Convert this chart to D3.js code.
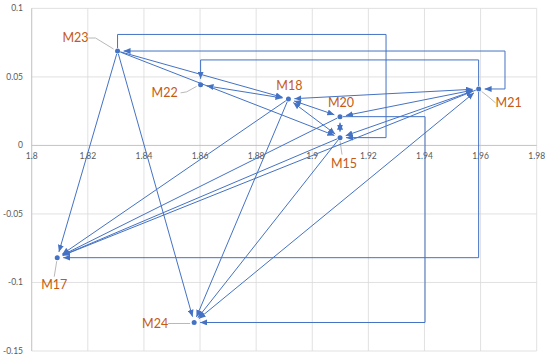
<!DOCTYPE html>
<html>
<head>
<meta charset="utf-8">
<script src="https://cdn.jsdelivr.net/npm/d3@7"></script>
<style>
  body { margin: 0; background: #fff; }
  svg { display: block; font-family: Lato, "Noto Sans", sans-serif; }
</style>
</head>
<body>
<div id="container"></div>
<script>
// data
const names   = ["M15", "M17", "M18", "M20", "M21", "M22", "M23", "M24"];
const xValues = [1.9099, 1.8091, 1.8915, 1.9099, 1.9593, 1.8602, 1.8306, 1.8579];
const yValues = [0.0057, -0.0819, 0.0339, 0.021, 0.0412, 0.0442, 0.0689, -0.1292];

const xTicks = [1.8, 1.82, 1.84, 1.86, 1.88, 1.9, 1.92, 1.94, 1.96, 1.98];
const xTickLabels = ["1.8", "1.82", "1.84", "1.86", "1.88", "1.9", "1.92", "1.94", "1.96", "1.98"];
const yTicks = [0.1, 0.05, 0, -0.05, -0.1, -0.15];
const yTickLabels = ["0.1", "0.05", "0", "-0.05", "-0.1", "-0.15"];

// straight arrows: from, to, arrow on both ends?
const links = [
  ["M23", "M18", false],
  ["M23", "M15", false],
  ["M23", "M17", false],
  ["M23", "M24", false],
  ["M22", "M18", true],
  ["M18", "M20", true],
  ["M18", "M15", true],
  ["M18", "M21", true],
  ["M18", "M17", false],
  ["M18", "M24", false],
  ["M20", "M15", true],
  ["M20", "M21", true],
  ["M20", "M17", false],
  ["M15", "M21", true],
  ["M15", "M17", false],
  ["M15", "M24", false],
  ["M21", "M17", false],
  ["M21", "M24", true]
];

// elbow connectors: from, to, both ends?, corners (a name means "take that point's x or y")
const elbows = [
  ["M23", "M15", false, [["M23", 0.081], [1.9263, 0.081], [1.9263, "M15"]]],
  ["M21", "M23", true,  [[1.9687, "M21"], [1.9687, "M23"]]],
  ["M21", "M22", false, [["M21", 0.0624], ["M22", 0.0624]]],
  ["M21", "M17", false, [["M21", "M17"]]],
  ["M20", "M24", false, [[1.9402, "M20"], [1.9402, "M24"]]]
];

/* layout */
const width = 550, height = 358;
const blue = "#4472C4", orange = "#C55A11", grid = "#d9d9d9", leader = "#a6a6a6";

// label placement in pixels from the point, with leader line points
const labelPos = {
  M23: { dx: -42, dy: -13, lead: [[-29, -13], [-22, -13], [-4, -2]] },
  M22: { dx: -36, dy: 8,   lead: [[-20, 8], [-14, 7], [-4, 1.5]] },
  M18: { dx: 1,   dy: -13, lead: null },
  M20: { dx: 1,   dy: -14, lead: null },
  M15: { dx: 4,   dy: 26,  lead: [[0, 3.5], [2, 17]] },
  M21: { dx: 30,  dy: 14,  lead: [[3, 2.5], [10, 8], [17, 14]] },
  M17: { dx: -3,  dy: 27,  lead: [[-0.5, 3.5], [-3, 19]] },
  M24: { dx: -39, dy: 1.5, lead: [[-26, 1], [-4, 1]] }
};

const x = d3.scaleLinear().domain([1.8, 1.98]).range([31.7, 536.7]);
const y = d3.scaleLinear().domain([-0.15, 0.1]).range([351, 8.4]);

const pts = {};
names.forEach((n, i) => pts[n] = { x: xValues[i], y: yValues[i] });

const svg = d3.select("#container").append("svg")
  .attr("width", width).attr("height", height);

svg.append("defs").append("marker")
  .attr("id", "arrow")
  .attr("viewBox", "0 0 7 6")
  .attr("refX", 7).attr("refY", 3)
  .attr("markerUnits", "userSpaceOnUse")
  .attr("markerWidth", 7).attr("markerHeight", 6)
  .attr("orient", "auto-start-reverse")
  .append("path").attr("d", "M0,0L7,3L0,6Z").attr("fill", blue);

// gridlines
svg.append("g").selectAll("line").data(xTicks).join("line")
  .attr("x1", d => x(d)).attr("x2", d => x(d))
  .attr("y1", y(0.1)).attr("y2", y(-0.15))
  .attr("stroke", grid).attr("stroke-width", 0.8);
svg.append("g").selectAll("line").data(yTicks).join("line")
  .attr("x1", x(1.8)).attr("x2", x(1.98))
  .attr("y1", d => y(d)).attr("y2", d => y(d))
  .attr("stroke", grid).attr("stroke-width", 0.8);

// axis lines
svg.append("line").attr("x1", x(1.8)).attr("x2", x(1.98)).attr("y1", y(0)).attr("y2", y(0))
  .attr("stroke", "#bfbfbf").attr("stroke-width", 0.8);
svg.append("line").attr("x1", x(1.8)).attr("x2", x(1.8)).attr("y1", y(0.1)).attr("y2", y(-0.15))
  .attr("stroke", "#bfbfbf").attr("stroke-width", 0.8);

// tick labels
svg.append("g").selectAll("text").data(xTicks).join("text")
  .attr("x", d => x(d)).attr("y", y(0) + 14)
  .attr("text-anchor", "middle").attr("font-size", "8.5px").attr("fill", "#595959")
  .text((d, i) => xTickLabels[i]);
svg.append("g").selectAll("text").data(yTicks).join("text")
  .attr("x", 23).attr("y", d => y(d) + 3)
  .attr("text-anchor", "end").attr("font-size", "8.5px").attr("fill", "#595959")
  .text((d, i) => yTickLabels[i]);

// leader lines for labels
names.forEach(n => {
  const lp = labelPos[n];
  if (!lp.lead) return;
  const px = x(pts[n].x), py = y(pts[n].y);
  svg.append("polyline")
    .attr("points", lp.lead.map(p => [px + p[0], py + p[1]].join(",")).join(" "))
    .attr("fill", "none").attr("stroke", leader).attr("stroke-width", 0.8);
});

const gapArrow = 6, gapPlain = 3;

// trims a pixel polyline at both ends
function trimmed(p, startGap, endGap) {
  const out = p.map(q => q.slice());
  const a = out[0], b = out[1];
  let len = Math.hypot(b[0] - a[0], b[1] - a[1]);
  a[0] += (b[0] - a[0]) / len * startGap; a[1] += (b[1] - a[1]) / len * startGap;
  const c = out[out.length - 1], d = out[out.length - 2];
  len = Math.hypot(d[0] - c[0], d[1] - c[1]);
  c[0] += (d[0] - c[0]) / len * endGap; c[1] += (d[1] - c[1]) / len * endGap;
  return out;
}

const line = d3.line();

const connG = svg.append("g").attr("fill", "none").attr("stroke", blue).attr("stroke-width", 1);

links.forEach(([f, t, both]) => {
  const p = [[x(pts[f].x), y(pts[f].y)], [x(pts[t].x), y(pts[t].y)]];
  connG.append("path")
    .attr("d", line(trimmed(p, both ? gapArrow : gapPlain, gapArrow)))
    .attr("marker-end", "url(#arrow)")
    .attr("marker-start", both ? "url(#arrow)" : null);
});

elbows.forEach(([f, t, both, via]) => {
  const p = [[x(pts[f].x), y(pts[f].y)]];
  via.forEach(([vx, vy]) => {
    p.push([x(typeof vx === "string" ? pts[vx].x : vx), y(typeof vy === "string" ? pts[vy].y : vy)]);
  });
  p.push([x(pts[t].x), y(pts[t].y)]);
  connG.append("path")
    .attr("d", line(trimmed(p, both ? gapArrow : gapPlain, gapArrow)))
    .attr("marker-end", "url(#arrow)")
    .attr("marker-start", both ? "url(#arrow)" : null);
});

// points
svg.append("g").selectAll("circle").data(names).join("circle")
  .attr("cx", n => x(pts[n].x)).attr("cy", n => y(pts[n].y))
  .attr("r", 2.5).attr("fill", blue);

// labels
svg.append("g").selectAll("text").data(names).join("text")
  .attr("x", n => x(pts[n].x) + labelPos[n].dx)
  .attr("y", n => y(pts[n].y) + labelPos[n].dy)
  .attr("dy", "0.35em")
  .attr("text-anchor", "middle")
  .attr("font-size", "12.5px")
  .attr("fill", orange)
  .text(n => n);
</script>
</body>
</html>
